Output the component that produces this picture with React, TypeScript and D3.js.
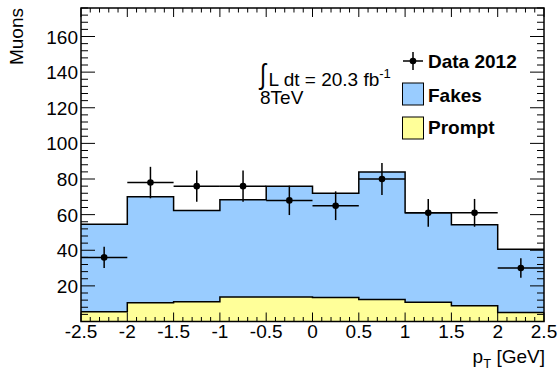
import React from "react";
import * as d3 from "d3";

const binEdges = [-2.5, -2, -1.5, -1, -0.5, 0, 0.5, 1, 1.5, 2, 2.5];
const promptVals = [5.5, 10.5, 11.1, 13.7, 13.7, 13.5, 12.4, 10.8, 8.9, 5.0];
const fakesVals = [49.1, 59.5, 51.2, 54.6, 62.3, 58.5, 71.6, 50.2, 45.4, 35.6];
const dataVals = [36, 78, 76, 76, 68, 65, 80, 61, 61, 30];
const xTickVals = [-2.5, -2, -1.5, -1, -0.5, 0, 0.5, 1, 1.5, 2, 2.5];
const yTickVals = [20, 40, 60, 80, 100, 120, 140, 160];

const W = 558, H = 381;
const L = 81, R = 544, T = 8, B = 321.5;
const FONT = "'Liberation Sans', Arial, Helvetica, sans-serif";
const FS = 19;

export default function App() {
  const x = d3.scaleLinear().domain([-2.5, 2.5]).range([L, R]);
  const y = d3.scaleLinear().domain([0, 176]).range([B, T]);

  const totals = fakesVals.map((f, i) => f + promptVals[i]);
  const stepPts = (vals: number[]) =>
    binEdges.map((e, i) => ({ e, v: vals[Math.min(i, vals.length - 1)] }));

  const area = d3
    .area<{ e: number; v: number }>()
    .x((d) => x(d.e))
    .y0(y(0))
    .y1((d) => y(d.v))
    .curve(d3.curveStepAfter);
  const line = d3
    .line<{ e: number; v: number }>()
    .x((d) => x(d.e))
    .y((d) => y(d.v))
    .curve(d3.curveStepAfter);

  const xMinor = d3.range(-2.5, 2.5001, 0.1);
  const yMinor = d3.range(0, 176.01, 4);

  return (
    <svg
      width={W}
      height={H}
      style={{ position: "absolute", left: 0, top: 0, background: "#fff" }}
      fontFamily={FONT}
    >
      <rect x={0} y={0} width={W} height={H} fill="#fff" />
      {/* stack */}
      <path d={area(stepPts(totals)) || ""} fill="#99ccff" />
      <path d={area(stepPts(promptVals)) || ""} fill="#ffff99" />
      <path d={line(stepPts(totals)) || ""} fill="none" stroke="#000" strokeWidth={1.5} />
      <path d={line(stepPts(promptVals)) || ""} fill="none" stroke="#000" strokeWidth={1.5} />

      {/* data */}
      {dataVals.map((v, i) => {
        const cx = x((binEdges[i] + binEdges[i + 1]) / 2);
        const err = Math.sqrt(v);
        return (
          <g key={i}>
            <line x1={x(binEdges[i])} x2={x(binEdges[i + 1])} y1={y(v)} y2={y(v)} stroke="#000" strokeWidth={1.5} />
            <line x1={cx} x2={cx} y1={y(v - err)} y2={y(v + err)} stroke="#000" strokeWidth={1.5} />
            <circle cx={cx} cy={y(v)} r={3.3} fill="#000" />
          </g>
        );
      })}

      {/* frame */}
      <rect x={L} y={T} width={R - L} height={B - T} fill="none" stroke="#000" strokeWidth={1.5} />
      {xMinor.map((v, i) => {
        const major = i % 5 === 0;
        const len = major ? 9 : 4.5;
        return (
          <g key={"xt" + i}>
            <line x1={x(v)} x2={x(v)} y1={B} y2={B - len} stroke="#000" strokeWidth={1} />
            <line x1={x(v)} x2={x(v)} y1={T} y2={T + len} stroke="#000" strokeWidth={1} />
          </g>
        );
      })}
      {yMinor.map((v, i) => {
        const major = i % 5 === 0;
        const len = major ? 14 : 7;
        return (
          <g key={"yt" + i}>
            <line x1={L} x2={L + len} y1={y(v)} y2={y(v)} stroke="#000" strokeWidth={1} />
            <line x1={R} x2={R - len} y1={y(v)} y2={y(v)} stroke="#000" strokeWidth={1} />
          </g>
        );
      })}
      {xTickVals.map((v) => (
        <text key={"xl" + v} x={x(v)} y={338} textAnchor="middle" fontSize={FS}>
          {v}
        </text>
      ))}
      {yTickVals.map((v) => (
        <text key={"yl" + v} x={L - 3} y={y(v) + 7} textAnchor="end" fontSize={FS}>
          {v}
        </text>
      ))}
      <text transform={`translate(23,${T}) rotate(-90)`} textAnchor="end" fontSize={FS}>
        Muons
      </text>
      <text x={R + 1} y={363} textAnchor="end" fontSize={FS}>
        p<tspan fontSize={13} dy={5}>T</tspan>
        <tspan dy={-5}> [GeV]</tspan>
      </text>

      {/* lumi */}
      <text x={260} y={84} fontSize={25} transform="translate(260,84) scale(0.9,1.15) translate(-260,-84)">∫</text>
      <text x={268.5} y={86} fontSize={FS}>
        L dt = 20.3 fb<tspan fontSize={13} dy={-8}>-1</tspan>
      </text>
      <text x={260} y={104} fontSize={FS}>8TeV</text>

      {/* legend */}
      <line x1={403} x2={423} y1={61} y2={61} stroke="#000" strokeWidth={1.5} />
      <line x1={413} x2={413} y1={52} y2={70} stroke="#000" strokeWidth={1.5} />
      <circle cx={413} cy={61} r={3.3} fill="#000" />
      <text x={428} y={67.5} fontSize={FS} fontWeight="bold">Data 2012</text>
      <rect x={402.5} y={83} width={21} height={22} fill="#99ccff" stroke="#000" strokeWidth={1} />
      <text x={428} y={102} fontSize={FS} fontWeight="bold">Fakes</text>
      <rect x={402.5} y={117} width={21} height={22} fill="#ffff99" stroke="#000" strokeWidth={1} />
      <text x={428} y={134} fontSize={FS} fontWeight="bold">Prompt</text>
    </svg>
  );
}
